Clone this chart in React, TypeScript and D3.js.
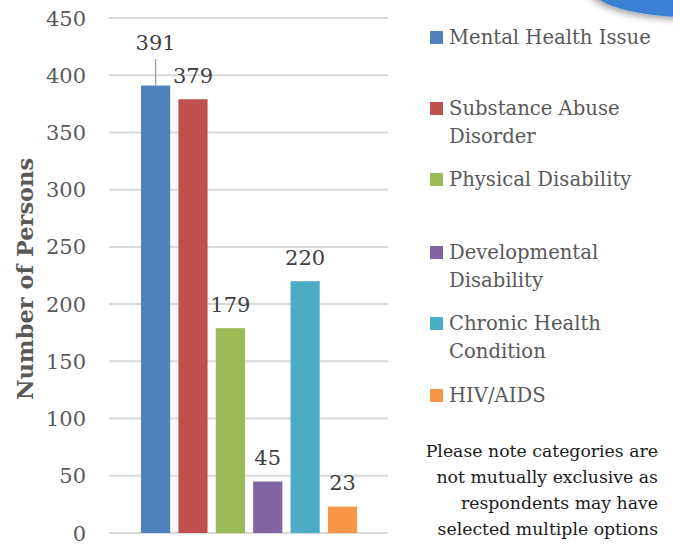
import React from "react";
import * as d3 from "d3";

const categories = [
  "Mental Health Issue",
  "Substance Abuse Disorder",
  "Physical Disability",
  "Developmental Disability",
  "Chronic Health Condition",
  "HIV/AIDS",
];
const legendLines = [
  ["Mental Health Issue"],
  ["Substance Abuse", "Disorder"],
  ["Physical Disability"],
  ["Developmental", "Disability"],
  ["Chronic Health", "Condition"],
  ["HIV/AIDS"],
];
const values = [391, 379, 179, 45, 220, 23];
const colors = ["#4f81bd", "#c0504d", "#9bbb59", "#8064a2", "#4bacc6", "#f79646"];
const yTicks = [0, 50, 100, 150, 200, 250, 300, 350, 400, 450];
const noteLines = [
  "Please note categories are",
  "not mutually exclusive as",
  "respondents may have",
  "selected multiple options",
];
const legendSquareY = [31, 102, 173, 246, 317, 389];

const FONT = "'DejaVu Serif', serif";

export default function App() {
  const W = 673, H = 544;
  const y = d3.scaleLinear().domain([0, 450]).range([533, 18]);
  const x = d3
    .scaleBand<string>()
    .domain(categories)
    .range([136.9, 361.2])
    .paddingInner(0.22)
    .paddingOuter(0.11);
  const gx0 = 109, gx1 = 388;

  return (
    <svg
      width={W}
      height={H}
      style={{ position: "absolute", left: 0, top: 0 }}
      fontFamily={FONT}
    >
      <defs>
        <filter id="sh" x="-50%" y="-50%" width="200%" height="200%">
          <feDropShadow dx="-2" dy="3" stdDeviation="3" floodColor="#000" floodOpacity="0.35" />
        </filter>
      </defs>
      <rect width={W} height={H} fill="#fff" />
      <ellipse cx={690} cy={-13} rx={100} ry={30} fill="#3a7fd3" filter="url(#sh)" />
      {yTicks.map((t) => (
        <g key={t}>
          <line x1={gx0} x2={gx1} y1={y(t)} y2={y(t)} stroke="#d9d9d9" strokeWidth={2} />
          <text x={86} y={y(t) + 7.5} textAnchor="end" fontSize={21} fill="#595959">
            {t}
          </text>
        </g>
      ))}
      <text
        transform={`translate(33,279) rotate(-90)`}
        textAnchor="middle"
        fontSize={22.5}
        fontWeight="bold"
        fill="#595959"
      >
        Number of Persons
      </text>
      {categories.map((c, i) => {
        const bx = x(c)!;
        const bw = x.bandwidth();
        const top = y(values[i]);
        const cx = bx + bw / 2;
        const first = i === 0;
        return (
          <g key={c}>
            <rect x={bx} y={top} width={bw} height={y(0) - top} fill={colors[i]} />
            {first && (
              <line x1={cx} x2={cx} y1={59} y2={top} stroke="#a6a6a6" strokeWidth={1.5} />
            )}
            <text
              x={cx}
              y={first ? top - 35.5 : top - 16.5}
              textAnchor="middle"
              fontSize={21}
              fill="#404040"
            >
              {values[i]}
            </text>
          </g>
        );
      })}
      {legendLines.map((lines, i) => (
        <g key={i}>
          <rect x={430} y={legendSquareY[i]} width={13} height={13} fill={colors[i]} />
          {lines.map((l, j) => (
            <text key={j} x={449} y={legendSquareY[i] + 13 + j * 28} fontSize={19.6} fill="#595959">
              {l}
            </text>
          ))}
        </g>
      ))}
      {noteLines.map((l, i) => (
        <text key={i} x={658} y={457 + i * 26} textAnchor="end" fontSize={17.3} fill="#1a1a1a">
          {l}
        </text>
      ))}
    </svg>
  );
}
